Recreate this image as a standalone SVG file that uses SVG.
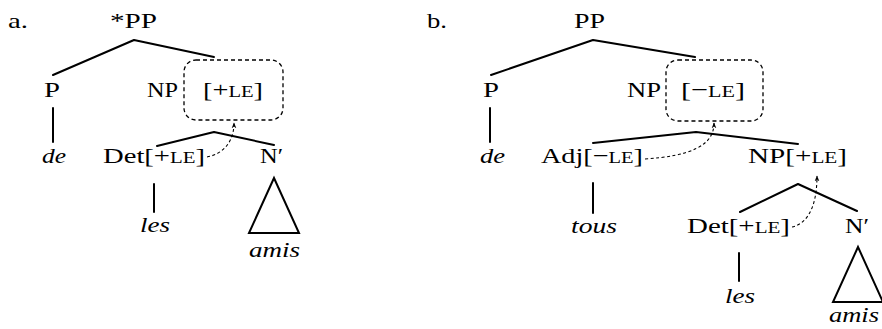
<svg xmlns="http://www.w3.org/2000/svg" width="882" height="329" viewBox="0 0 882 329">
<style>
text{font-family:"Liberation Serif","DejaVu Serif","Times New Roman",serif;font-size:22px;fill:#000}
.it{font-style:italic}
.sc{font-size:16px}
.e{stroke:#000;stroke-width:2;fill:none;stroke-linecap:round}
.box{stroke:#000;stroke-width:1.3;fill:none;stroke-dasharray:4 3}
.arr{stroke:#000;stroke-width:1.1;fill:none;stroke-dasharray:3 2.5;marker-end:url(#ah)}
</style>
<defs>
<marker id="ah" viewBox="0 0 10 10" refX="9" refY="5" markerWidth="6" markerHeight="6" orient="auto" markerUnits="userSpaceOnUse">
<path d="M0,1 L10,5 L0,9 L3,5 Z" fill="#000"/>
</marker>
</defs>
<g id="labels">
<text x="8" y="28" textLength="20" lengthAdjust="spacingAndGlyphs">a.</text>
<text x="427" y="28" textLength="20" lengthAdjust="spacingAndGlyphs">b.</text>
</g>
<g id="connectors">
<path class="e" d="M134,40 L53,75 M134,40 L214,57"/>
<path class="e" d="M53,108 L53,142"/>
<path class="e" d="M214,132 L157,146 M214,132 L274,145"/>
<path class="e" d="M154,184 L154,212"/>
<path class="e" d="M593,40 L491,75 M593,40 L695,57"/>
<path class="e" d="M490,108 L490,142"/>
<path class="e" d="M696,132 L593,143 M696,132 L798,144"/>
<path class="e" d="M593,183 L593,213"/>
<path class="e" d="M798,184 L740,212 M798,184 L857,211"/>
<path class="e" d="M739,253 L739,281"/>
<path class="arr" d="M207,157 C223,154 234,142 234,123"/>
<path class="arr" d="M645,159 C690,156 714,146 714,123"/>
<path class="arr" d="M792,227 C810,223 817,202 817,176"/>
</g>
<g id="a-PP"><text x="110" y="28" textLength="47" lengthAdjust="spacingAndGlyphs">*PP</text></g>
<g id="a-P"><text x="44" y="97" textLength="16" lengthAdjust="spacingAndGlyphs">P</text></g>
<g id="a-NP">
<text x="147" y="97" textLength="31" lengthAdjust="spacingAndGlyphs">NP</text>
<rect class="box" x="184" y="60" width="99" height="60" rx="12"/>
<text x="203" y="97" textLength="60" lengthAdjust="spacingAndGlyphs">[+<tspan class="sc">LE</tspan>]</text>
</g>
<g id="a-de"><text class="it" x="42" y="163" textLength="24" lengthAdjust="spacingAndGlyphs">de</text></g>
<g id="a-Det"><text x="103" y="163" textLength="102" lengthAdjust="spacingAndGlyphs">Det[+<tspan class="sc">LE</tspan>]</text></g>
<g id="a-Nbar"><text x="260" y="163" textLength="23" lengthAdjust="spacingAndGlyphs">N′</text></g>
<g id="a-les"><text class="it" x="140" y="232" textLength="30" lengthAdjust="spacingAndGlyphs">les</text></g>
<g id="a-amis">
<path class="e" d="M274,178 L249,233 L299,233 Z" stroke-linejoin="miter"/>
<text class="it" x="249" y="257" textLength="51" lengthAdjust="spacingAndGlyphs">amis</text>
</g>
<g id="b-PP"><text x="574" y="28" textLength="31" lengthAdjust="spacingAndGlyphs">PP</text></g>
<g id="b-P"><text x="483" y="97" textLength="16" lengthAdjust="spacingAndGlyphs">P</text></g>
<g id="b-NP">
<text x="627" y="97" textLength="34" lengthAdjust="spacingAndGlyphs">NP</text>
<rect class="box" x="666" y="60" width="97" height="61" rx="12"/>
<text x="681" y="97" textLength="64" lengthAdjust="spacingAndGlyphs">[−<tspan class="sc">LE</tspan>]</text>
</g>
<g id="b-de"><text class="it" x="480" y="163" textLength="25" lengthAdjust="spacingAndGlyphs">de</text></g>
<g id="b-Adj"><text x="541" y="163" textLength="102" lengthAdjust="spacingAndGlyphs">Adj[−<tspan class="sc">LE</tspan>]</text></g>
<g id="b-NP2"><text x="748" y="163" textLength="99" lengthAdjust="spacingAndGlyphs">NP[+<tspan class="sc">LE</tspan>]</text></g>
<g id="b-tous"><text class="it" x="571" y="233" textLength="46" lengthAdjust="spacingAndGlyphs">tous</text></g>
<g id="b-Det"><text x="687" y="233" textLength="103" lengthAdjust="spacingAndGlyphs">Det[+<tspan class="sc">LE</tspan>]</text></g>
<g id="b-Nbar"><text x="845" y="233" textLength="24" lengthAdjust="spacingAndGlyphs">N′</text></g>
<g id="b-les"><text class="it" x="725" y="303" textLength="30" lengthAdjust="spacingAndGlyphs">les</text></g>
<g id="b-amis">
<path class="e" d="M858,247 L833,302 L883,302 Z" stroke-linejoin="miter"/>
<text class="it" x="829" y="322" textLength="50" lengthAdjust="spacingAndGlyphs">amis</text>
</g>
</svg>
